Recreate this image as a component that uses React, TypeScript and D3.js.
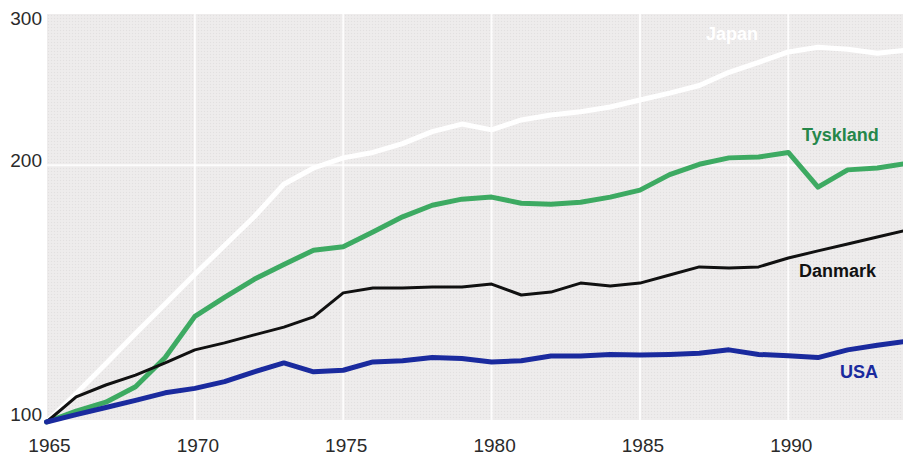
import React from "react";
import * as d3 from "d3";

const years = d3.range(1965, 1995);
const japan = [100, 108, 117, 127, 137.5, 149, 161, 174, 190, 198.5, 204, 207, 212, 219, 223.5, 220, 226, 229, 231, 234, 238.5, 243, 248, 257, 264, 271.5, 275, 273.5, 270.5, 273];
const tyskland = [100, 103, 105.5, 110, 119, 133, 140, 147, 153, 159, 160.5, 167, 174, 179.5, 182.5, 183.5, 180.5, 180, 181, 183.5, 187, 195, 200.5, 204, 204.5, 207, 188.5, 197.5, 198.5, 201];
const danmark = [100, 107, 110.5, 113.5, 117.3, 121.5, 123.8, 126.5, 129.2, 132.8, 141.7, 143.6, 143.6, 144, 144, 145.1, 140.9, 142, 145.5, 144.4, 145.5, 148.7, 152, 151.5, 152, 155.7, 158.7, 161.7, 164.8, 167.9];
const usa = [100, 102, 104, 106, 108.2, 109.5, 111.5, 114.5, 117.3, 114.5, 115, 117.6, 118, 119, 118.7, 117.6, 118, 119.5, 119.5, 120, 119.8, 120, 120.4, 121.5, 120, 119.6, 119, 121.5, 123, 124.4];
const xTicks = [1965, 1970, 1975, 1980, 1985, 1990];
const yTicks = [100, 200, 300];
const gridYears = [1970, 1975, 1980, 1985, 1990];
const gridValues = [200];

const W = 903;
const H = 455;

export default function App() {
  const x = d3.scaleLinear().domain([1965, 1994]).range([46.5, 907]);
  const y = d3.scaleLog().domain([100, 300]).range([422, 15]);
  const line = d3
    .line<number>()
    .x((_, i) => x(years[i]))
    .y((v) => y(v));

  const series = [
    { name: "Japan", data: japan, color: "#ffffff", width: 5 },
    { name: "Tyskland", data: tyskland, color: "#3daa62", width: 5 },
    { name: "Danmark", data: danmark, color: "#111111", width: 3 },
    { name: "USA", data: usa, color: "#1a2a9e", width: 5 },
  ];

  const labels = [
    { text: "Japan", x: 706, y: 40, color: "#ffffff" },
    { text: "Tyskland", x: 802, y: 141, color: "#25874a" },
    { text: "Danmark", x: 799, y: 277, color: "#111111" },
    { text: "USA", x: 840, y: 378, color: "#1a2a9e" },
  ];

  return (
    <svg
      width={W}
      height={H}
      style={{ position: "absolute", left: 0, top: 0, background: "#ffffff" }}
      fontFamily="'Liberation Sans', Arial, sans-serif"
    >
      <defs>
        <pattern id="tex" width="3" height="3" patternUnits="userSpaceOnUse">
          <rect width="3" height="3" fill="#edebeb" />
          <rect width="1" height="1" fill="#e2e0e0" />
          <rect x="1.5" y="1.5" width="1" height="1" fill="#f3f1f1" />
        </pattern>
        <clipPath id="clip">
          <rect x={0} y={0} width={W} height={H} />
        </clipPath>
      </defs>
      <rect x={47} y={14} width={W - 47} height={406} fill="url(#tex)" />
      {gridYears.map((g) => (
        <line key={g} x1={x(g)} x2={x(g)} y1={14} y2={420} stroke="#ffffff" strokeOpacity={0.85} strokeWidth={2} />
      ))}
      {gridValues.map((g) => (
        <line key={g} x1={47} x2={W} y1={y(g)} y2={y(g)} stroke="#ffffff" strokeOpacity={0.85} strokeWidth={2} />
      ))}
      <g clipPath="url(#clip)">
        {series.map((s) => (
          <path
            key={s.name}
            d={line(s.data) || ""}
            fill="none"
            stroke={s.color}
            strokeWidth={s.width}
            strokeLinejoin="round"
            strokeLinecap="round"
          />
        ))}
      </g>
      {yTicks.map((t) => (
        <text key={t} x={42} y={y(t) + (t === 300 ? 10 : t === 200 ? 2 : -1)} textAnchor="end" fontSize={19} fill="#2a2a2a">
          {t}
        </text>
      ))}
      {xTicks.map((t) => (
        <text key={t} x={x(t) + 3} y={452} textAnchor="middle" fontSize={19} fill="#2a2a2a">
          {t}
        </text>
      ))}
      {labels.map((l) => (
        <text key={l.text} x={l.x} y={l.y} fontSize={18} fontWeight="bold" fill={l.color}>
          {l.text}
        </text>
      ))}
    </svg>
  );
}
